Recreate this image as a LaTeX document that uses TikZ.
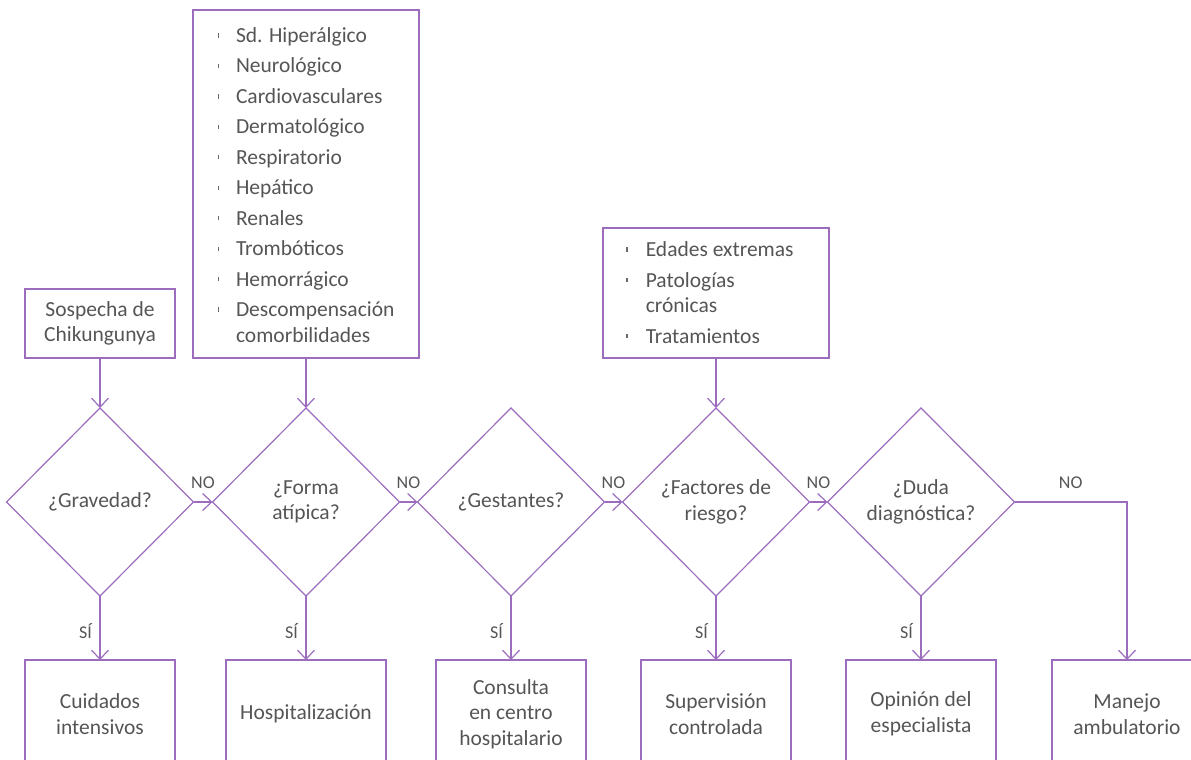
\documentclass[tikz,border=0pt]{standalone}
\usepackage{fontspec}
\setmainfont{Carlito}
\usetikzlibrary{shapes.geometric,arrows.meta}
\definecolor{lin}{HTML}{9C6DBE}
\definecolor{txt}{HTML}{555555}
\definecolor{bulc}{HTML}{6A6A6A}
\newcommand\bulmark{\textcolor{bulc}{\rule[5pt]{1.8pt}{4.5pt}}}
\begin{document}
\begin{tikzpicture}[x=1pt,y=-1pt,
  every node/.style={text=txt, font=\fontsize{21.5}{25.5}\selectfont, outer sep=0pt},
  box/.style={draw=lin, line width=1.2pt, align=center, inner sep=0pt},
  dec/.style={draw=lin, line width=1.2pt, diamond, minimum width=187pt, minimum height=188pt, inner sep=0pt, align=center},
  conn/.style={draw=lin, line width=1.2pt, -{Straight Barb[length=9pt,width=17pt]}},
  lab/.style={font=\fontsize{18}{21}\selectfont, inner sep=0pt}
]
\useasboundingbox (0,0) rectangle (1191,760);
\clip (0,0) rectangle (1191,760);

% top boxes
\node[box, minimum width=150pt, minimum height=69pt] (s1) at (100,323.5) {Sospecha de\\Chikungunya};
\node[box, minimum width=226pt, minimum height=348pt] (lb1) at (306,184) {};
\node[box, minimum width=226pt, minimum height=130pt] (lb2) at (716,293) {};

\node[anchor=base west, inner sep=0pt] (lt1) at (217.5,42.5) {\begin{tabular}[t]{@{}c@{\hspace{16.7pt}}l@{}}
\bulmark & Sd. Hiperálgico\\[5pt]
\bulmark & Neurológico\\[5pt]
\bulmark & Cardiovasculares\\[5pt]
\bulmark & Dermatológico\\[5pt]
\bulmark & Respiratorio\\[5pt]
\bulmark & Hepático\\[5pt]
\bulmark & Renales\\[5pt]
\bulmark & Trombóticos\\[5pt]
\bulmark & Hemorrágico\\[5pt]
\bulmark & Descompensación\\
 & comorbilidades
\end{tabular}};

\node[anchor=base west, inner sep=0pt] (lt2) at (626,256.5) {\begin{tabular}[t]{@{}c@{\hspace{18pt}}l@{}}
\bulmark & Edades extremas\\[5pt]
\bulmark & Patologías\\
 & crónicas\\[5pt]
\bulmark & Tratamientos
\end{tabular}};

% decisions
\node[dec] (d1) at (100,502) {¿Gravedad?};
\node[dec] (d2) at (306,502) {¿Forma\\atípica?};
\node[dec] (d3) at (511,502) {¿Gestantes?};
\node[dec] (d4) at (716,502) {¿Factores de\\riesgo?};
\node[dec] (d5) at (921,502) {¿Duda\\diagnóstica?};

% bottom boxes
\node[box, anchor=north, minimum width=150pt, minimum height=108pt] (b1) at (100,660) {Cuidados\\intensivos};
\node[box, anchor=north, minimum width=160pt, minimum height=108pt] (b2) at (306,660) {Hospitalización};
\node[box, anchor=north, minimum width=150pt, minimum height=108pt] (b3) at (511,660) {Consulta\\en centro\\hospitalario};
\node[box, anchor=north, minimum width=150pt, minimum height=108pt] (b4) at (716,660) {Supervisión\\controlada};
\node[box, anchor=north, minimum width=150pt, minimum height=108pt] (b5) at (921,660) {Opinión del\\especialista};
\node[box, anchor=north, minimum width=150pt, minimum height=108pt] (b6) at (1127,660) {Manejo\\ambulatorio};

% connectors
\draw[conn] (s1.south) -- (d1.north);
\draw[conn] (lb1.south) -- (d2.north);
\draw[conn] (lb2.south) -- (d4.north);

\draw[conn] (d1.east) -- (d2.west) node[lab, midway, above=13pt] {NO};
\draw[conn] (d2.east) -- (d3.west) node[lab, midway, above=13pt] {NO};
\draw[conn] (d3.east) -- (d4.west) node[lab, midway, above=13pt] {NO};
\draw[conn] (d4.east) -- (d5.west) node[lab, midway, above=13pt] {NO};
\draw[conn] (d5.east) -| (b6.north) node[lab, pos=0.25, above=13pt] {NO};

\draw[conn] (d1.south) -- (b1.north) node[lab, pos=0.55, left=8pt] {SÍ};
\draw[conn] (d2.south) -- (b2.north) node[lab, pos=0.55, left=8pt] {SÍ};
\draw[conn] (d3.south) -- (b3.north) node[lab, pos=0.55, left=8pt] {SÍ};
\draw[conn] (d4.south) -- (b4.north) node[lab, pos=0.55, left=8pt] {SÍ};
\draw[conn] (d5.south) -- (b5.north) node[lab, pos=0.55, left=8pt] {SÍ};
\end{tikzpicture}
\end{document}
